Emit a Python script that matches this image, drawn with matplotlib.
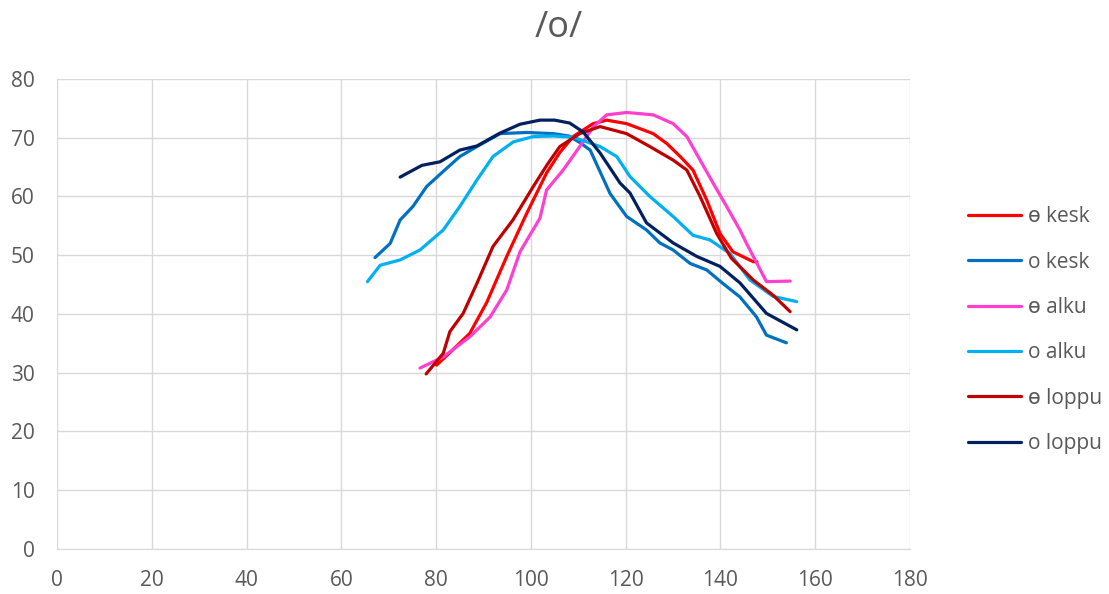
import matplotlib
matplotlib.use("Agg")
import matplotlib.pyplot as plt

# series
e_kesk_x = [80.1, 83, 87.1, 90.7, 94.9, 99.1, 103.3, 106.1, 108.9, 113.1, 116, 120.2, 125.8, 128.7,
            131.5, 134.2, 137.1, 139.9, 142.6, 146.9, 147.7]
e_kesk_y = [31.3, 33.5, 36.7, 42.0, 49.8, 57.1, 64.0, 67.5, 70.2, 72.4, 73.0, 72.4, 70.7, 69.0,
            66.8, 64.5, 59.4, 53.7, 50.6, 48.9, 48.9]

o_kesk_x = [67.1, 70.3, 72.4, 75.1, 78, 81.4, 85, 88.6, 93.5, 99.1, 104.7, 108, 110.3, 112.5, 116.7,
            120.2, 124.4, 127.2, 130, 133.6, 137.1, 140.5, 144.1, 147.6, 149.7, 153.9]
o_kesk_y = [49.6, 52.0, 56.0, 58.3, 61.7, 64.2, 66.8, 68.5, 70.7, 70.9, 70.7, 70.3, 69.2, 67.9, 60.5,
            56.6, 54.3, 52.1, 50.9, 48.6, 47.5, 45.2, 42.9, 39.5, 36.4, 35.1]

e_alku_x = [76.6, 81.5, 87.1, 91.4, 94.9, 97.7, 101.9, 103.3, 106.8, 110.3, 113.2, 116, 120.2, 125.8,
            130, 132.9, 135.7, 138.5, 141.3, 144.1, 145.5, 147.7, 149.7, 154.7]
e_alku_y = [30.8, 32.7, 36.1, 39.5, 44.1, 50.6, 56.3, 61.1, 64.5, 68.5, 71.9, 73.9, 74.3, 73.9,
            72.4, 70.2, 66.2, 62.2, 58.3, 54.3, 52.0, 48.6, 45.5, 45.6]

o_alku_x = [65.5, 68.2, 72.4, 76.6, 81.5, 85, 88.6, 92, 96.3, 100.5, 104.7, 108.9, 114.6, 118.1,
            120.9, 125.1, 130, 134.2, 137.8, 142, 146.2, 151.1, 156.1]
o_alku_y = [45.5, 48.3, 49.2, 50.9, 54.3, 58.3, 62.8, 66.8, 69.3, 70.2, 70.3, 70.1, 68.5, 66.8,
            63.4, 60.0, 56.6, 53.4, 52.6, 50.3, 45.8, 43.0, 42.1]

e_loppu_x = [77.9, 81.5, 82.9, 85.7, 88.6, 92, 96.2, 100.5, 103.5, 106.1, 110.3, 114.6, 120.2, 125.1,
             130, 132.9, 135.7, 139.2, 142.3, 146.9, 151.1, 154.7]
e_loppu_y = [29.8, 33.3, 37.0, 40.1, 45.2, 51.5, 56.0, 61.7, 65.5, 68.5, 70.7, 71.9, 70.7, 68.5,
             66.2, 64.5, 60.0, 53.7, 49.5, 45.8, 43.2, 40.4]

o_loppu_x = [72.4, 77, 80.8, 85, 88.6, 93.5, 97.7, 101.9, 105, 108.2, 111, 114.6, 118.8, 120.9,
             124.4, 130, 135, 139.9, 144.1, 149.7, 156.1]
o_loppu_y = [63.3, 65.3, 65.9, 67.9, 68.6, 70.8, 72.3, 73.0, 73.0, 72.5, 71.0, 67.4, 62.3, 60.6,
             55.5, 52.1, 49.8, 48.1, 45.3, 40.1, 37.3]

series = [
    ("ɵ kesk", e_kesk_x, e_kesk_y, "#FF0000"),
    ("o kesk", o_kesk_x, o_kesk_y, "#0070C0"),
    ("ɵ alku", e_alku_x, e_alku_y, "#FF3FCF"),
    ("o alku", o_alku_x, o_alku_y, "#00B0F0"),
    ("ɵ loppu", e_loppu_x, e_loppu_y, "#C00000"),
    ("o loppu", o_loppu_x, o_loppu_y, "#002060"),
]

plt.rcParams['font.family'] = ['Open Sans', 'DejaVu Sans']
txt = "#595959"

fig = plt.figure(figsize=(11.09, 5.94), dpi=100)
ax = fig.add_axes([0.0514, 0.0758, 0.7692, 0.7912])

for name, xs, ys, col in series:
    ax.plot(xs, ys, color=col, lw=2.3, label=name, solid_joinstyle="round", solid_capstyle="round")

ax.set_xlim(0, 180)
ax.set_ylim(0, 80)
ax.set_xticks(range(0, 181, 20))
ax.set_yticks(range(0, 81, 10))
ax.grid(True, color="#D9D9D9", lw=1)
ax.set_axisbelow(True)
for s in ["left", "top", "right"]:
    ax.spines[s].set_visible(False)
ax.spines["bottom"].set_color("#D9D9D9")
ax.tick_params(length=0, labelsize=15, labelcolor=txt)
ax.tick_params(axis="x", pad=15)
ax.tick_params(axis="y", pad=16)

fig.text(0.504, 0.953, "/o/", ha="center", va="center", fontsize=26, color=txt)

leg = ax.legend(loc="upper left", bbox_to_anchor=(1.0586, 0.747), frameon=False, fontsize=15,
                handlelength=2.55, handletextpad=0.3, labelspacing=1.17, borderaxespad=0)
for t in leg.get_texts():
    t.set_color(txt)

fig.savefig("out.png", dpi=100)
